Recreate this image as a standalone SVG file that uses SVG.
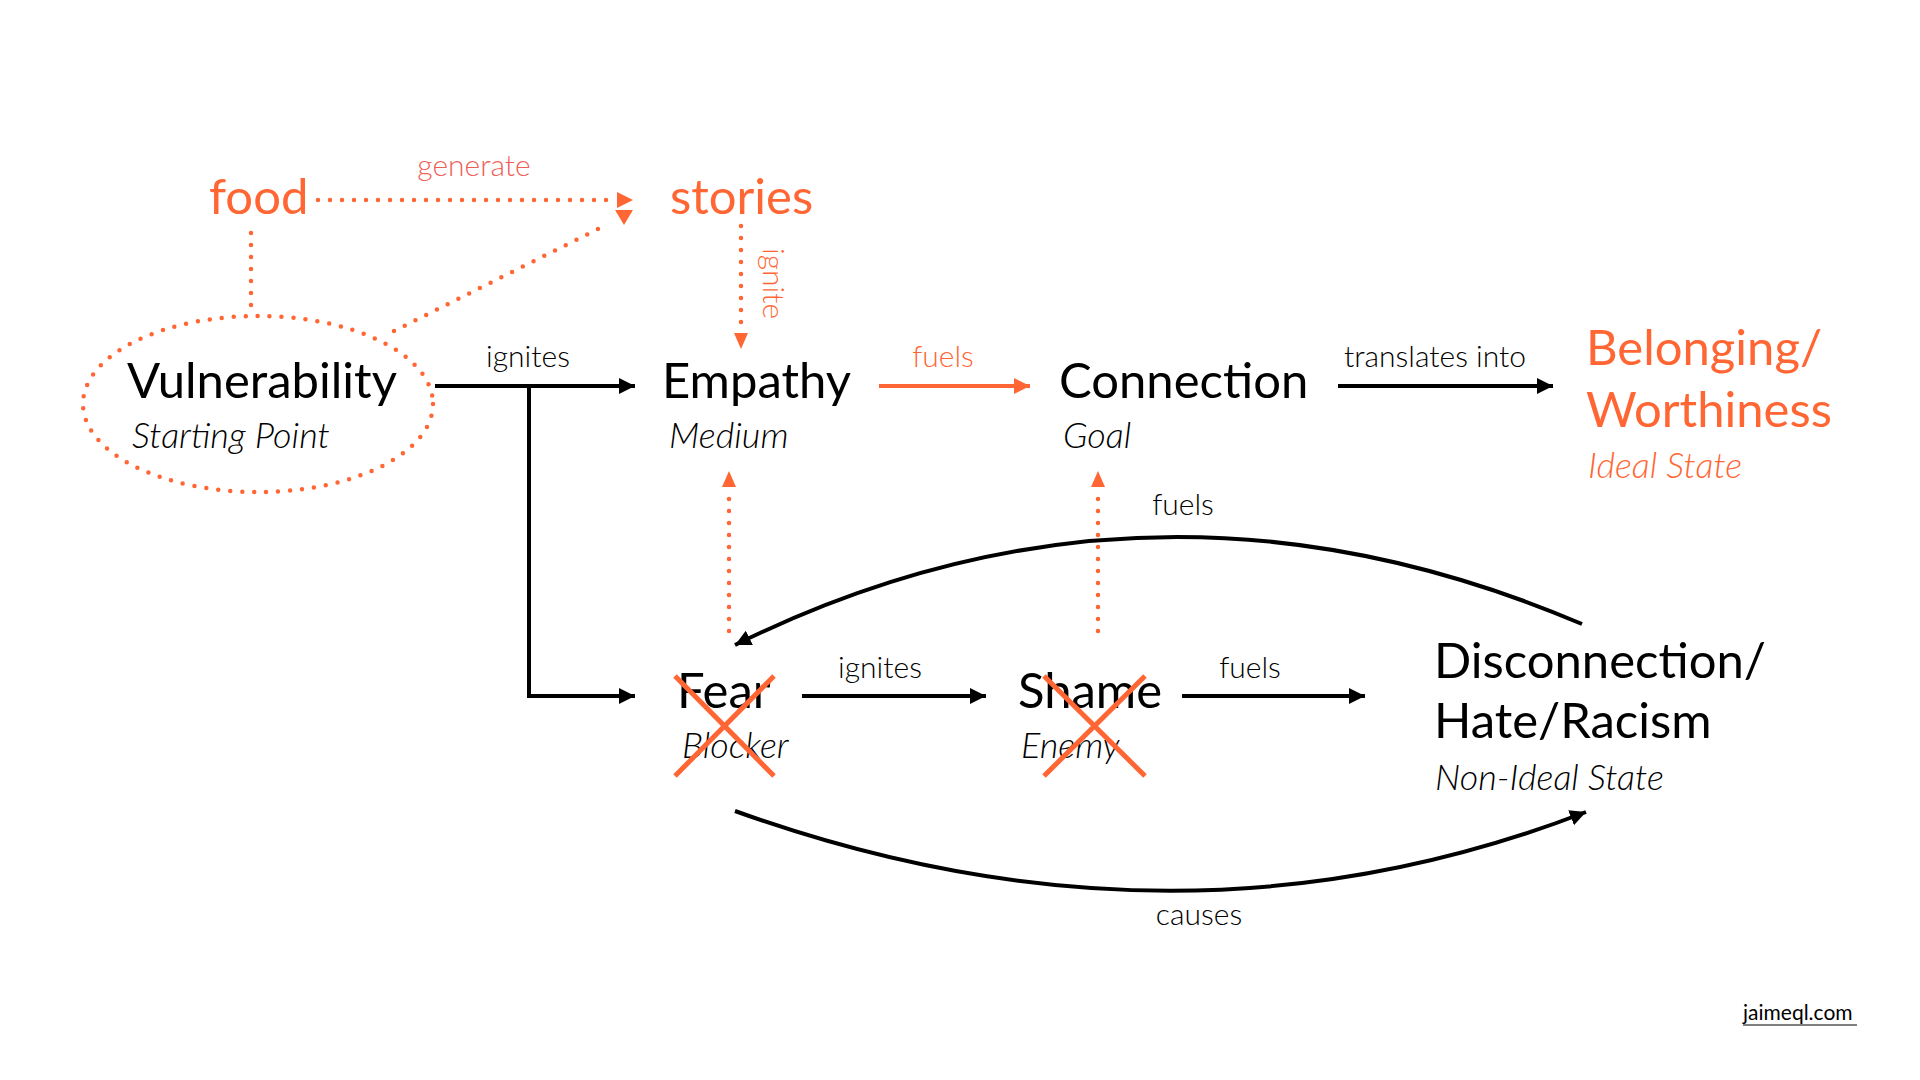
<svg xmlns="http://www.w3.org/2000/svg" width="1920" height="1080" viewBox="0 0 1920 1080">
<style>
text{font-family:Lato,"Liberation Sans",sans-serif;}
.main{font-size:49px;fill:#000;}
.sub{font-size:36px;font-style:italic;font-weight:300;fill:#000;}
.lbl{font-size:30px;font-weight:300;fill:#000;text-anchor:middle;}
.or{fill:#FF6633;}
.line{stroke:#000;stroke-width:4;fill:none;}
.oline{stroke:#FF6633;stroke-width:4;fill:none;}
.dot{stroke:#FF6633;stroke-width:4.5;fill:none;stroke-dasharray:0 12;stroke-linecap:round;}
.x{stroke:#FF6633;stroke-width:5;}
</style>
<defs>
<marker id="ab" markerUnits="userSpaceOnUse" markerWidth="18" markerHeight="18" refX="16" refY="8" orient="auto"><path d="M0,0 L16,8 L0,16 z" fill="#000"/></marker>
<marker id="ao" markerUnits="userSpaceOnUse" markerWidth="18" markerHeight="18" refX="16" refY="8" orient="auto"><path d="M0,0 L16,8 L0,16 z" fill="#FF6633"/></marker>
</defs>
<rect width="1920" height="1080" fill="#fff"/>
<g id="connectors">
<path class="dot" d="M318,200 L612,200"/>
<polygon points="617,192 633,200 617,208" fill="#FF6633"/>
<path class="dot" d="M394,331 L608,224"/>
<polygon points="615,210 633,210 624,225" fill="#FF6633"/>
<path class="dot" d="M251,233 L251,309"/>
<path class="dot" d="M741,226 L741,326"/>
<polygon points="734,333 748,333 741,349" fill="#FF6633"/>
<path class="line" d="M435,386 L635,386" marker-end="url(#ab)"/>
<path class="line" d="M529,386 L529,696 L635,696" marker-end="url(#ab)"/>
<path class="oline" d="M879,386 L1030,386" marker-end="url(#ao)"/>
<path class="line" d="M1338,386 L1553,386" marker-end="url(#ab)"/>
<path class="dot" d="M729,631 L729,494"/>
<polygon points="722,487 736,487 729,471" fill="#FF6633"/>
<path class="dot" d="M1098,631 L1098,494"/>
<polygon points="1091,487 1105,487 1098,471" fill="#FF6633"/>
<path class="line" d="M802,696 L986,696" marker-end="url(#ab)"/>
<path class="line" d="M1182,696 L1365,696" marker-end="url(#ab)"/>
<path class="line" d="M1582,624 Q1150,440 735,645" marker-end="url(#ab)"/>
<path class="line" d="M735,811 Q1177,970 1586,812" marker-end="url(#ab)"/>
<text class="lbl" x="474" y="176" style="fill:#EF5F5A">generate</text>
<text class="lbl" transform="translate(763,248) rotate(90)" style="fill:#FF6633;text-anchor:start">ignite</text>
<text class="lbl" x="528" y="367">ignites</text>
<text class="lbl or" x="943" y="367">fuels</text>
<text class="lbl" x="1435" y="367">translates into</text>
<text class="lbl" x="1183" y="515">fuels</text>
<text class="lbl" x="880" y="678">ignites</text>
<text class="lbl" x="1250" y="678">fuels</text>
<text class="lbl" x="1199" y="925">causes</text>
</g>
<g id="food"><text class="main or" x="209" y="214">food</text></g>
<g id="stories"><text class="main or" x="670" y="214">stories</text></g>
<g id="vulnerability">
<ellipse class="dot" cx="258" cy="404" rx="175" ry="88"/>
<text class="main" x="127" y="398">Vulnerability</text>
<text class="sub" x="132" y="448">Starting Point</text>
</g>
<g id="empathy">
<text class="main" x="662" y="398">Empathy</text>
<text class="sub" x="669" y="448">Medium</text>
</g>
<g id="connection">
<text class="main" x="1059" y="398">Connection</text>
<text class="sub" x="1063" y="448">Goal</text>
</g>
<g id="belonging">
<text class="main or" x="1586" y="365">Belonging/</text>
<text class="main or" x="1586" y="427">Worthiness</text>
<text class="sub or" x="1588" y="478">Ideal State</text>
</g>
<g id="fear">
<text class="main" x="677" y="708">Fear</text>
<text class="sub" x="682" y="758">Blocker</text>
<line class="x" x1="675" y1="676" x2="774" y2="776"/>
<line class="x" x1="774" y1="676" x2="675" y2="776"/>
</g>
<g id="shame">
<text class="main" x="1018" y="708">Shame</text>
<text class="sub" x="1021" y="758">Enemy</text>
<line class="x" x1="1044" y1="676" x2="1145" y2="776"/>
<line class="x" x1="1145" y1="676" x2="1044" y2="776"/>
</g>
<g id="disconnection">
<text class="main" x="1434" y="678">Disconnection/</text>
<text class="main" x="1434" y="738">Hate/Racism</text>
<text class="sub" x="1435" y="790">Non-Ideal State</text>
</g>
<g id="credit">
<text x="1743" y="1020" style="font-size:21px;fill:#000">jaimeql.com</text>
<line x1="1743" y1="1025" x2="1857" y2="1025" stroke="#000" stroke-width="1.2"/>
</g>
</svg>
